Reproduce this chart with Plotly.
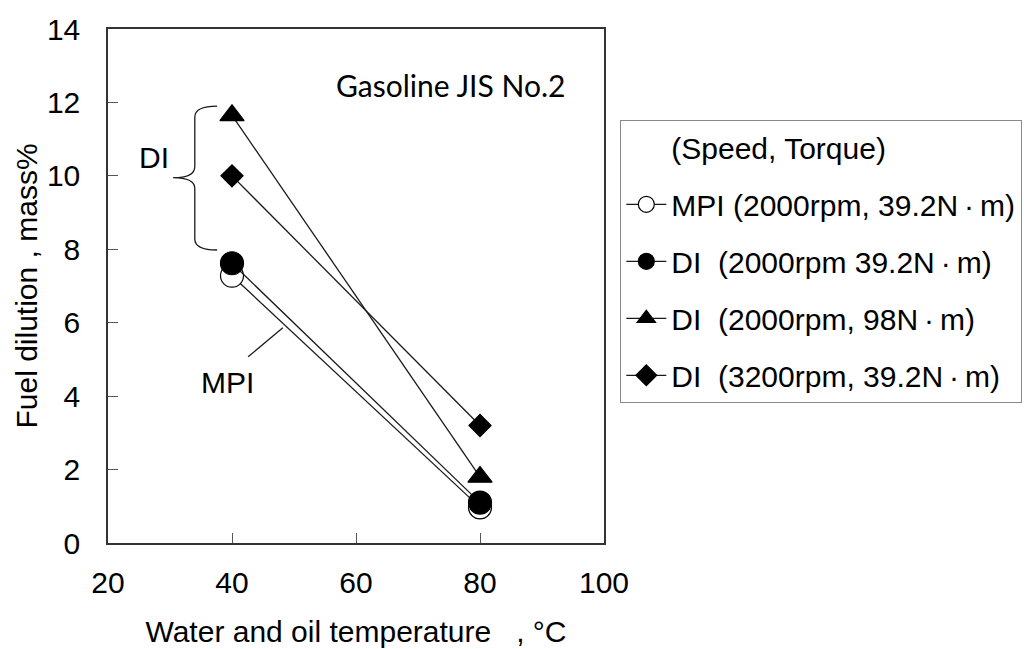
import plotly.graph_objects as go

# ---- data ----
temps = [40, 80]
mpi_2000_392 = [7.28, 0.97]
di_2000_392 = [7.62, 1.1]
di_2000_98 = [11.65, 1.8]
di_3200_392 = [10.0, 3.2]

series_names = [
    "MPI (2000rpm, 39.2N\u2009\u00b7\u2009m)",
    "DI\u00a0\u00a0(2000rpm 39.2N\u2009\u00b7\u2009m)",
    "DI\u00a0\u00a0(2000rpm, 98N\u2009\u00b7\u2009m)",
    "DI\u00a0\u00a0(3200rpm, 39.2N\u2009\u00b7\u2009m)",
]
legend_title = "(Speed, Torque)"
x_title = "\u00a0\u00a0Water and oil temperature\u00a0\u00a0\u00a0, \u00b0C"
y_title = "Fuel dilution , mass%"
x_ticks = [20, 40, 60, 80, 100]
y_ticks = [0, 2, 4, 6, 8, 10, 12, 14]

FONT = "Liberation Sans, Arial, sans-serif"
LINE = "#1a1a1a"

fig = go.Figure()

# legend heading as an entry without a symbol
fig.add_trace(go.Scatter(
    x=[None], y=[None], mode="lines", name=legend_title, legendgroup="g0",
    line=dict(color="rgba(0,0,0,0)", width=0), hoverinfo="skip",
))

specs = [
    (mpi_2000_392, "circle", "white", 23),
    (di_2000_392, "circle", "black", 23),
    (di_2000_98, "triangle-up", "black", 21),
    (di_3200_392, "diamond", "black", 17),
]
for i, ((vals, sym, fill, size), name) in enumerate(zip(specs, series_names)):
    fig.add_trace(go.Scatter(
        x=temps, y=vals, mode="lines+markers", name=name,
        legendgroup=f"g{i+1}",
        line=dict(color=LINE, width=1.3),
        marker=dict(symbol=sym, size=size, color=fill,
                    line=dict(color="black", width=1.2)),
    ))

# Annotations
fig.add_annotation(x=27.4, y=10.5, text="DI", showarrow=False,
                   font=dict(family=FONT, size=30, color="black"))
fig.add_annotation(x=39.35, y=4.36, text="MPI", showarrow=False,
                   font=dict(family=FONT, size=30, color="black"))
fig.add_annotation(x=75.2, y=12.48, text="Gasoline JIS No.2", showarrow=False,
                   font=dict(family="Lato, Open Sans, sans-serif", size=30, color="black"))

# leader line for MPI
fig.add_shape(type="line", x0=42.6, y0=5.07, x1=48.2, y1=5.86,
              line=dict(color=LINE, width=1.3), xref="x", yref="y")
# curly brace for DI
brace = ("M 37.6,11.9 Q 34.0,11.9 34.0,11.6 L 34.0,10.25 Q 34.0,9.95 30.5,9.95 "
         "Q 34.0,9.95 34.0,9.65 L 34.0,8.28 Q 34.0,7.98 37.6,7.98")
fig.add_shape(type="path", path=brace, line=dict(color=LINE, width=1.3),
              xref="x", yref="y")

axis_common = dict(
    showgrid=False, zeroline=False, showline=True, linecolor="#333333",
    linewidth=1.5, mirror=True, ticks="inside", ticklen=10, tickwidth=1,
    tickcolor="#555555", tickfont=dict(family=FONT, size=30, color="black"),
    automargin=False,
)
fig.update_xaxes(range=[20, 100], tickvals=x_ticks, ticklabelstandoff=12,
                 title=dict(text=x_title, font=dict(family=FONT, size=30, color="black"),
                            standoff=23),
                 **axis_common)
fig.update_yaxes(range=[0, 14], tickvals=y_ticks, ticklabelstandoff=20,
                 title=dict(text=y_title, font=dict(family=FONT, size=30, color="black"),
                            standoff=0),
                 **axis_common)

fig.update_layout(
    width=1030, height=649,
    margin=dict(l=108, r=426, t=29, b=106, autoexpand=False),
    paper_bgcolor="white", plot_bgcolor="white",
    font=dict(family=FONT, size=30, color="black"),
    legend=dict(
        x=1.0323, y=0.823, xanchor="left", yanchor="top",
        bordercolor="#888888", borderwidth=1.3, bgcolor="white",
        font=dict(family=FONT, size=30, color="black"),
        traceorder="grouped", tracegroupgap=15, itemwidth=40,
    ),
    showlegend=True,
)

fig.write_html("out.html", config={"displayModeBar": False},
               post_script="document.body.style.margin='0px';document.body.style.overflow='hidden';")
